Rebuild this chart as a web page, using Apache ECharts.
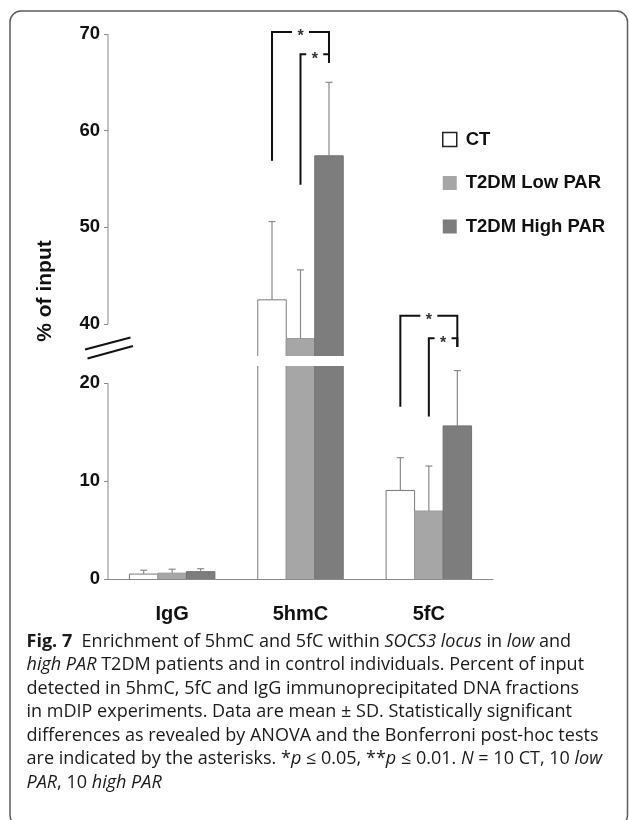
<!DOCTYPE html>
<html>
<head>
<meta charset="utf-8">
<script src="https://cdn.jsdelivr.net/npm/echarts@6.0.0/dist/echarts.min.js"></script>
<style>
  html, body { margin: 0; padding: 0; background: #fff; }
  #chart { width: 629px; height: 820px; }
</style>
</head>
<body>
<div id="chart"></div>
<script>
// ---- data -------------------------------------------------------------
const categories = ['IgG', '5hmC', '5fC'];
const groups = ['CT', 'T2DM Low PAR', 'T2DM High PAR'];
const ctMean   = [0.5, 42.5, 9.05];
const ctSD     = [0.4, 8.1, 3.35];
const lowMean  = [0.6, 38.5, 6.95];
const lowSD    = [0.4, 7.1, 4.6];
const highMean = [0.75, 57.4, 15.65];
const highSD   = [0.3, 7.6, 5.65];
const lowerTicks = [0, 10, 20];
const upperTicks = [40, 50, 60, 70];
// significance brackets: [category, left group, right group, bar level, left foot, right foot]
const sigBrackets = [
  [1, 0, 2, 70.2, 56.9, 67.0],
  [1, 1, 2, 67.9, 54.4, 67.0],
  [2, 0, 2, 26.9, 17.6, 23.7],
  [2, 1, 2, 24.6, 16.6, 23.7]
];
const sigLabels = ['*', '*', '*', '*'];
const captionLines = [
  '{b|Fig. 7}  Enrichment of 5hmC and 5fC within {i|SOCS3 locus} in {i|low} and',
  '{i|high PAR} T2DM patients and in control individuals. Percent of input',
  'detected in 5hmC, 5fC and IgG immunoprecipitated DNA fractions',
  'in mDIP experiments. Data are mean \u00b1 SD. Statistically significant',
  'differences as revealed by ANOVA and the Bonferroni post-hoc tests',
  'are indicated by the asterisks. *{i|p} \u2264 0.05, **{i|p} \u2264 0.01. {i|N} = 10 CT, 10 {i|low}',
  '{i|PAR}, 10 {i|high PAR}'
];

// ---- layout / style ----------------------------------------------------
const FONT = 'Liberation Sans, Arial, sans-serif';
const CAP_FONT = 'Open Sans, Noto Sans, sans-serif';
const LOWER_MAX = 21.77;   // top of the lower panel (broken axis)
const UPPER_MIN = 36.69;   // bottom of the upper panel
const BAR_FRAC = 0.222;    // bar width as a share of the category band
const AXIS_GRAY = '#8a8a8a';
const fills   = ['#ffffff', '#a6a6a6', '#7d7d7d'];
const strokes = ['#7a7a7a', '#9b9b9b', '#727272'];
const means = [ctMean, lowMean, highMean];
const sds = [ctSD, lowSD, highSD];

function barX(api, cat, g) {
  const band = api.size([1, 0])[0];
  const w = band * BAR_FRAC;
  return { cx: api.coord([cat, 0])[0] + (g - 1) * w, w: w };
}

function barRenderer(g) {
  return function (params, api) {
    const cs = params.coordSys;
    const cat = api.value(0);
    const p = barX(api, cat, g);
    const x0 = p.cx - p.w / 2, x1 = p.cx + p.w / 2;
    const yBase = cs.y + cs.height;
    let yTop = api.coord([cat, api.value(1)])[1];
    const clipped = yTop < cs.y;
    if (clipped) yTop = cs.y;
    if (yTop >= yBase) return;
    const children = [{
      type: 'rect',
      shape: { x: x0, y: yTop, width: p.w, height: yBase - yTop },
      style: { fill: fills[g] }
    }];
    const lw = { stroke: strokes[g], lineWidth: 1, fill: null };
    if (clipped) {
      children.push({ type: 'line', shape: { x1: x0, y1: yBase, x2: x0, y2: yTop }, style: lw });
      children.push({ type: 'line', shape: { x1: x1, y1: yBase, x2: x1, y2: yTop }, style: lw });
    } else {
      children.push({ type: 'polyline', shape: { points: [[x0, yBase], [x0, yTop], [x1, yTop], [x1, yBase]] }, style: lw });
    }
    return { type: 'group', children: children };
  };
}

function errRenderer(params, api) {
  const cat = api.value(0), g = api.value(1);
  const p = barX(api, cat, g);
  const yM = api.coord([cat, api.value(2)])[1];
  const yT = api.coord([cat, api.value(2) + api.value(3)])[1];
  const st = { stroke: AXIS_GRAY, lineWidth: 1.2 };
  return {
    type: 'group',
    children: [
      { type: 'line', shape: { x1: p.cx, y1: yM, x2: p.cx, y2: yT }, style: st },
      { type: 'line', shape: { x1: p.cx - 3.5, y1: yT, x2: p.cx + 3.5, y2: yT }, style: st }
    ]
  };
}

function bracketRenderer(params, api) {
  const cat = api.value(0);
  const xl = barX(api, cat, api.value(1)).cx;
  const xr = barX(api, cat, api.value(2)).cx;
  const yL = api.coord([cat, api.value(3)])[1];
  const yLF = api.coord([cat, api.value(4)])[1];
  const yRF = api.coord([cat, api.value(5)])[1];
  const xm = (xl + xr) / 2;
  const st = { stroke: '#111', lineWidth: 2, fill: null };
  return {
    type: 'group',
    children: [
      { type: 'polyline', shape: { points: [[xl, yLF], [xl, yL], [xm - 8.5, yL]] }, style: st },
      { type: 'polyline', shape: { points: [[xm + 8.5, yL], [xr, yL], [xr, yRF]] }, style: st },
      { type: 'text', x: xm, y: yL + 5,
        style: { text: sigLabels[api.value(6)], fill: '#333', font: 'bold 16px ' + FONT, align: 'center', verticalAlign: 'middle' } }
    ]
  };
}

function spanRenderer(params, api) {
  const x = params.coordSys.x;
  const y1 = api.coord([0, api.value(0)])[1];
  const y2 = api.coord([0, api.value(1)])[1];
  return { type: 'line', shape: { x1: x, y1: y1, x2: x, y2: y2 }, style: { stroke: AXIS_GRAY, lineWidth: 1 } };
}

const series = [];
[0, 1].forEach(function (panel) {
  const inPanel = panel === 0 ? function (v) { return v < LOWER_MAX; } : function (v) { return v > UPPER_MIN; };
  groups.forEach(function (name, g) {
    series.push({
      type: 'custom', name: name, xAxisIndex: panel, yAxisIndex: panel,
      renderItem: barRenderer(g), clip: false, z: 2,
      itemStyle: { color: fills[g] },
      encode: { x: 0, y: 1 },
      data: means[g].map(function (v, i) { return [i, v]; })
        .filter(function (d) { return panel === 0 ? true : inPanel(d[1]); })
    });
  });
  const errData = [];
  groups.forEach(function (name, g) {
    means[g].forEach(function (v, i) { if (inPanel(v)) errData.push([i, g, v, sds[g][i]]); });
  });
  series.push({
    type: 'custom', xAxisIndex: panel, yAxisIndex: panel, renderItem: errRenderer,
    clip: false, z: 3, silent: true, encode: { x: 0, y: 2 }, data: errData
  });
  const brData = [];
  sigBrackets.forEach(function (b, k) {
    const upper = b[4] > UPPER_MIN;
    if ((panel === 1) === upper) brData.push(b.concat([k]));
  });
  series.push({
    type: 'custom', xAxisIndex: panel, yAxisIndex: panel, renderItem: bracketRenderer,
    clip: false, z: 4, silent: true, encode: { x: 0, y: 3 }, data: brData
  });
  const ticks = panel === 0 ? lowerTicks : upperTicks;
  series.push({
    type: 'custom', xAxisIndex: panel, yAxisIndex: panel, renderItem: spanRenderer,
    clip: false, z: 1, silent: true, encode: { y: [0, 1] },
    data: [[ticks[0], ticks[ticks.length - 1]]]
  });
});

function yAxisFor(panel) {
  const ticks = panel === 0 ? lowerTicks : upperTicks;
  return {
    gridIndex: panel, type: 'value',
    min: panel === 0 ? 0 : UPPER_MIN,
    max: panel === 0 ? LOWER_MAX : 70,
    axisLine: { show: false },
    splitLine: { show: false },
    axisTick: { show: true, length: 4, customValues: ticks, lineStyle: { color: AXIS_GRAY } },
    axisLabel: { customValues: ticks, margin: 8, color: '#111', fontFamily: FONT, fontWeight: 'bold', fontSize: 18.5 }
  };
}

// caption: measure natural width of one full line and squeeze all lines by the same factor
const mctx = document.createElement('canvas').getContext('2d');
mctx.font = '18px ' + CAP_FONT;
const capScale = 572 / mctx.measureText(captionLines[4]).width;
const capRich = {
  b: { fontFamily: CAP_FONT, fontSize: 18, fontWeight: 'bold', fill: '#1a1a1a' },
  i: { fontFamily: CAP_FONT, fontSize: 18, fontStyle: 'italic', fill: '#1a1a1a' }
};
const captionGraphics = captionLines.map(function (t, k) {
  return {
    type: 'text', x: 26.5, y: 641.5 + k * 23.5, scaleX: capScale,
    style: { text: t, fill: '#1a1a1a', fontFamily: CAP_FONT, fontSize: 18, verticalAlign: 'middle', align: 'left', rich: capRich }
  };
});

const chart = echarts.init(document.getElementById('chart'), null, { renderer: 'canvas' });
chart.setOption({
  animation: false,
  backgroundColor: '#ffffff',
  grid: [
    { left: 108, width: 385, top: 366, height: 213 },
    { left: 108, width: 385, top: 34, height: 322 }
  ],
  xAxis: [
    {
      gridIndex: 0, type: 'category', data: categories,
      axisLine: { lineStyle: { color: AXIS_GRAY, width: 1 } },
      axisTick: { length: 4, lineStyle: { color: AXIS_GRAY } },
      axisLabel: { margin: 25, color: '#111', fontFamily: FONT, fontWeight: 'bold', fontSize: 20 }
    },
    { gridIndex: 1, type: 'category', data: categories, show: false }
  ],
  yAxis: [yAxisFor(0), yAxisFor(1)],
  legend: {
    orient: 'vertical', left: 442, top: 130, padding: 0, itemWidth: 14, itemHeight: 14, itemGap: 24.5,
    icon: 'rect', selectedMode: false,
    textStyle: { fontFamily: FONT, fontWeight: 'bold', fontSize: 18.5, color: '#111', padding: [0, 0, 0, 4] },
    data: [
      { name: groups[0], itemStyle: { color: '#ffffff', borderColor: '#222', borderWidth: 1.5 } },
      { name: groups[1], itemStyle: { color: fills[1] } },
      { name: groups[2], itemStyle: { color: fills[2] } }
    ]
  },
  graphic: [
    { type: 'rect', shape: { x: 10, y: 11, width: 617.5, height: 815, r: 11 },
      style: { fill: null, stroke: '#5c5c5c', lineWidth: 1.5 }, silent: true },
    { type: 'text', x: 45, y: 291, rotation: Math.PI / 2,
      style: { text: '% of input', font: 'bold 21px ' + FONT, fill: '#111', align: 'center', verticalAlign: 'middle' } },
    { type: 'line', shape: { x1: 85, y1: 349.5, x2: 130.5, y2: 337.5 }, style: { stroke: '#111', lineWidth: 2 } },
    { type: 'line', shape: { x1: 87.5, y1: 358.5, x2: 133, y2: 346 }, style: { stroke: '#111', lineWidth: 2 } }
  ].concat(captionGraphics),
  series: series
});
</script>
</body>
</html>
